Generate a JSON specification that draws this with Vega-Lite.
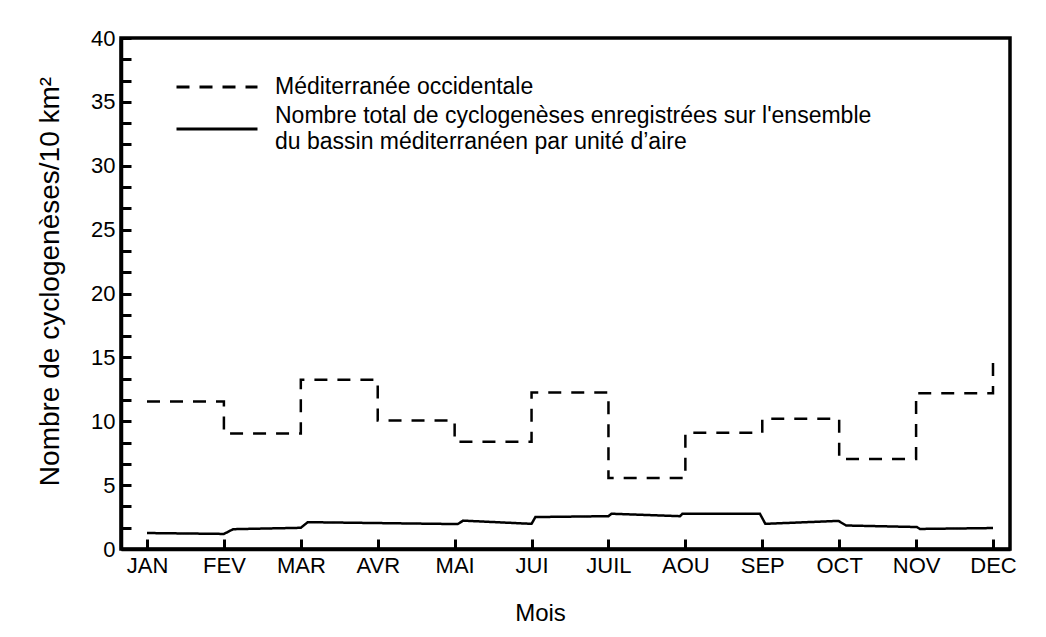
{
  "$schema": "https://vega.github.io/schema/vega-lite/v6.json",
  "width": 889,
  "height": 511,
  "autosize": "none",
  "padding": {"left": 121, "top": 38, "right": 36, "bottom": 88},
  "background": "white",
  "config": {
    "font": "Liberation Sans",
    "view": {"stroke": "black", "strokeWidth": 3.5}
  },
  "data": {
    "values": [
      {"serie": "Méditerranée occidentale", "mois": 1, "valeur": 11.55},
      {"serie": "Méditerranée occidentale", "mois": 2, "valeur": 9.05},
      {"serie": "Méditerranée occidentale", "mois": 3, "valeur": 13.25},
      {"serie": "Méditerranée occidentale", "mois": 4, "valeur": 10.05},
      {"serie": "Méditerranée occidentale", "mois": 5, "valeur": 8.4},
      {"serie": "Méditerranée occidentale", "mois": 6, "valeur": 12.25},
      {"serie": "Méditerranée occidentale", "mois": 7, "valeur": 5.55},
      {"serie": "Méditerranée occidentale", "mois": 8, "valeur": 9.1},
      {"serie": "Méditerranée occidentale", "mois": 9, "valeur": 10.2},
      {"serie": "Méditerranée occidentale", "mois": 10, "valeur": 7.05},
      {"serie": "Méditerranée occidentale", "mois": 11, "valeur": 12.2},
      {"serie": "Méditerranée occidentale", "mois": 12, "valeur": 15.0},
      {"serie": "Total", "mois": 1, "valeur": 1.25},
      {"serie": "Total", "mois": 2, "valeur": 1.18},
      {"serie": "Total", "mois": 2.12, "valeur": 1.55},
      {"serie": "Total", "mois": 3, "valeur": 1.66},
      {"serie": "Total", "mois": 3.09, "valeur": 2.1},
      {"serie": "Total", "mois": 5.04, "valeur": 1.95},
      {"serie": "Total", "mois": 5.11, "valeur": 2.22},
      {"serie": "Total", "mois": 6, "valeur": 1.97},
      {"serie": "Total", "mois": 6.05, "valeur": 2.5},
      {"serie": "Total", "mois": 7, "valeur": 2.57},
      {"serie": "Total", "mois": 7.04, "valeur": 2.76},
      {"serie": "Total", "mois": 7.93, "valeur": 2.57},
      {"serie": "Total", "mois": 7.96, "valeur": 2.75},
      {"serie": "Total", "mois": 8.97, "valeur": 2.75},
      {"serie": "Total", "mois": 9.04, "valeur": 1.97},
      {"serie": "Total", "mois": 9.99, "valeur": 2.2},
      {"serie": "Total", "mois": 10.09, "valeur": 1.84},
      {"serie": "Total", "mois": 11.01, "valeur": 1.72},
      {"serie": "Total", "mois": 11.05, "valeur": 1.57},
      {"serie": "Total", "mois": 12, "valeur": 1.64}
    ]
  },
  "encoding": {
    "x": {
      "field": "mois",
      "type": "quantitative",
      "scale": {"domain": [0.662, 12.221], "nice": false, "zero": false},
      "axis": {
        "values": [1, 2, 3, 4, 5, 6, 7, 8, 9, 10, 11, 12],
        "labelExpr": "['JAN','FEV','MAR','AVR','MAI','JUI','JUIL','AOU','SEP','OCT','NOV','DEC'][datum.value - 1]",
        "grid": false,
        "domainColor": "black",
        "domainWidth": 3.5,
        "tickColor": "black",
        "tickWidth": 3,
        "tickSize": -10,
        "labelFontSize": 22,
        "labelColor": "black",
        "labelPadding": 16,
        "labelDx": 8,
        "labelFlush": false,
        "labelOverlap": false,
        "title": "Mois",
        "titleFontSize": 24,
        "titleFontWeight": "normal",
        "titleColor": "black",
        "titleX": 419,
        "titleY": 71,
        "titleAlign": "center",
        "titleBaseline": "alphabetic"
      }
    },
    "y": {
      "field": "valeur",
      "type": "quantitative",
      "scale": {"domain": [0, 40], "nice": false},
      "axis": {
        "values": [0, 1.6667, 3.3333, 5, 6.6667, 8.3333, 10, 11.6667, 13.3333, 15, 16.6667, 18.3333, 20, 21.6667, 23.3333, 25, 26.6667, 28.3333, 30, 31.6667, 33.3333, 35, 36.6667, 38.3333, 40],
        "labelExpr": "abs(datum.value / 5 - round(datum.value / 5)) < 0.01 ? datum.label : ''",
        "grid": false,
        "domainColor": "black",
        "domainWidth": 3.5,
        "tickColor": "black",
        "tickWidth": 3,
        "tickSize": -10,
        "labelFontSize": 22,
        "labelColor": "black",
        "labelPadding": 16,
        "labelFlush": false,
        "labelOverlap": false,
        "title": "Nombre de cyclogenèses/10 km²",
        "titleFontSize": 28,
        "titleFontWeight": "normal",
        "titleColor": "black",
        "titleX": -63,
        "titleY": 243,
        "titleAlign": "center",
        "titleBaseline": "alphabetic"
      }
    },
    "strokeDash": {
      "field": "serie",
      "type": "nominal",
      "scale": {
        "domain": ["Méditerranée occidentale", "Total"],
        "range": [[13, 10], [1, 0]]
      },
      "legend": {
        "orient": "none",
        "legendX": 84,
        "legendY": 37,
        "title": null,
        "padding": 0,
        "symbolType": "M-4,0L4,0",
        "symbolSize": 410,
        "symbolStrokeWidth": 3,
        "symbolStrokeColor": "black",
        "symbolFillColor": "transparent",
        "labelFontSize": 23,
        "labelColor": "black",
        "labelOffset": 46,
        "labelLimit": 900,
        "rowPadding": 6,
        "labelExpr": "datum.value == 'Total' ? [\"\u00a0\u00a0Nombre total de cyclogenèses enregistrées sur l'ensemble\", \"\u00a0\u00a0du bassin méditerranéen par unité d’aire\"] : datum.label",
        "encode": {
          "symbols": {
            "update": {
              "strokeDash": {"signal": "datum.value == 'Total' ? [1, 0] : [21, 9]"}
            }
          },
          "labels": {
            "update": {
              "lineHeight": {"value": 26},
              "dy": {"signal": "datum.value == 'Total' ? -13 : 0"}
            }
          }
        }
      }
    }
  },
  "layer": [
    {
      "transform": [{"filter": "datum.serie == 'Méditerranée occidentale'"}],
      "mark": {"type": "line", "interpolate": "step-after", "strokeWidth": 2.5, "color": "black"}
    },
    {
      "transform": [{"filter": "datum.serie == 'Total'"}],
      "mark": {"type": "line", "interpolate": "linear", "strokeWidth": 2.5, "color": "black"}
    }
  ]
}
